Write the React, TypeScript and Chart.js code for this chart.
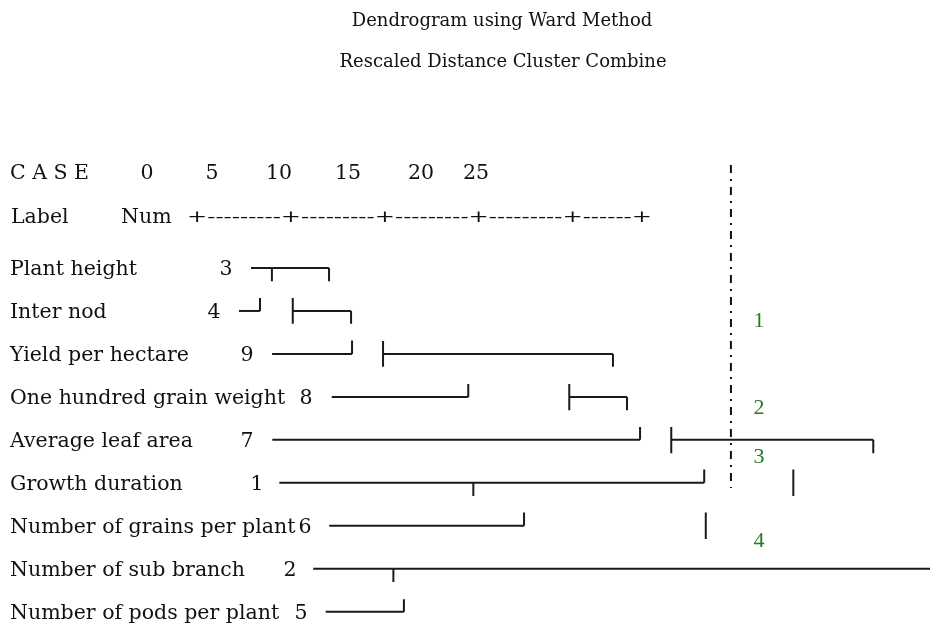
import React, { useEffect, useRef } from "react";
import { Chart, registerables } from "chart.js";

Chart.register(...registerables);

// ---- data ----
const caseLabels = [
  "Plant height",
  "Inter nod",
  "Yield per hectare",
  "One hundred grain weight",
  "Average leaf area",
  "Growth duration",
  "Number of grains per plant",
  "Number of sub branch",
  "Number of pods per plant",
];
const caseNumbers = ["3", "4", "9", "8", "7", "1", "6", "2", "5"];
const scaleTickLabels = ["0", "5", "10", "15", "20", "25"];
const clusterLabels = ["1", "2", "3", "4"];
const clusterRows = [1.23, 3.26, 4.4, 6.35];
const clusterDistance = 29.18;
const cutDistance = 27.74;
const cutRows = [-2.4, 5.12];

// horizontal links: [row, fromDistance, toDistance]
const horizontalLinks = [
  [0, 3.13, 7.13],
  [1, 2.51, 3.59],
  [1, 5.27, 8.26],
  [2, 4.21, 8.31],
  [2, 9.9, 21.69],
  [3, 7.27, 14.27],
  [3, 19.45, 22.41],
  [4, 4.22, 23.08],
  [4, 24.68, 35.04],
  [5, 4.58, 26.37],
  [6, 7.14, 17.13],
  [7, 6.32, 37.95],
  [8, 6.96, 10.97],
];

// vertical links: [distance, fromRow, toRow]
const verticalLinks = [
  [4.2, 0, 0.31],
  [7.13, 0, 0.31],
  [3.59, 0.7, 1],
  [5.27, 0.7, 1.3],
  [8.26, 1, 1.3],
  [8.31, 1.69, 2],
  [9.9, 1.7, 2.3],
  [21.69, 2, 2.3],
  [14.27, 2.7, 3],
  [19.45, 2.7, 3.31],
  [22.41, 3, 3.31],
  [23.08, 3.7, 4],
  [24.68, 3.7, 4.31],
  [35.04, 4, 4.31],
  [14.53, 5, 5.31],
  [26.37, 4.69, 5],
  [30.94, 4.69, 5.31],
  [17.13, 5.69, 6],
  [26.45, 5.69, 6.31],
  [10.43, 7, 7.31],
  [10.97, 7.71, 8],
];

// ---- layout (pixels) ----
const W = 930;
const H = 624;
const X0 = 190; // pixel of distance 0
const XU = 19.5; // pixels per distance unit
const Y0 = 268; // pixel of row 0
const YU = 42.96; // pixels per row
const numberX = [226, 214, 247, 306, 247, 257, 305, 290, 301];
const tickLabelX = [147, 212, 279, 348, 421, 476];

const LINE = "#1a1a1a";
const FONT = "'DejaVu Serif', serif";

const textPlugin = {
  id: "dendroText",
  afterDraw(chart: any) {
    const ctx = chart.ctx as CanvasRenderingContext2D;
    const ys = chart.scales.y;
    const xs = chart.scales.x;
    ctx.save();
    ctx.fillStyle = "#111";
    ctx.textBaseline = "middle";

    ctx.font = `18px ${FONT}`;
    ctx.textAlign = "center";
    ctx.fillText("Dendrogram using Ward Method", 502, 21);
    ctx.fillText("Rescaled Distance Cluster Combine", 503, 62);

    ctx.font = `20.5px ${FONT}`;
    ctx.textAlign = "left";
    ctx.fillText("C A S E", 10, 174);
    ctx.fillText("Label", 11, 218);
    ctx.fillText("Num", 121, 218);

    ctx.textAlign = "center";
    scaleTickLabels.forEach((t, i) => ctx.fillText(t, tickLabelX[i], 174));

    // axis string stretched between the first and last "+"
    const axisStr = "+---------+---------+---------+---------+------+";
    ctx.font = `17px ${FONT}`;
    const w = ctx.measureText(axisStr).width;
    const target = 652 - 187;
    ctx.save();
    ctx.translate(187, 218);
    ctx.scale(target / w, 1);
    ctx.textAlign = "left";
    ctx.fillText(axisStr, 0, 0);
    ctx.restore();

    ctx.font = `20.5px ${FONT}`;
    caseLabels.forEach((lab, i) => {
      const y = ys.getPixelForValue(i) + 2;
      ctx.textAlign = "left";
      ctx.fillText(lab, 10, y);
      ctx.textAlign = "center";
      ctx.fillText(caseNumbers[i], numberX[i], y);
    });

    ctx.fillStyle = "#247a24";
    ctx.font = "22px 'Liberation Serif', serif";
    ctx.textAlign = "center";
    clusterLabels.forEach((c, i) => {
      ctx.fillText(c, xs.getPixelForValue(clusterDistance), ys.getPixelForValue(clusterRows[i]));
    });
    ctx.restore();
  },
};

export default function App() {
  const ref = useRef<HTMLCanvasElement | null>(null);

  useEffect(() => {
    if (!ref.current) return;
    const lineStyle = {
      showLine: true,
      borderColor: LINE,
      borderWidth: 2,
      pointRadius: 0,
      pointHoverRadius: 0,
      borderCapStyle: "butt" as const,
    };
    const datasets: any[] = [];
    horizontalLinks.forEach(([row, a, b]) =>
      datasets.push({ ...lineStyle, data: [{ x: a, y: row }, { x: b, y: row }] })
    );
    verticalLinks.forEach(([d, r1, r2]) =>
      datasets.push({ ...lineStyle, data: [{ x: d, y: r1 }, { x: d, y: r2 }] })
    );
    datasets.push({
      ...lineStyle,
      borderColor: "#111",
      borderWidth: 2,
      borderDash: [8, 6, 2, 6],
      data: [
        { x: cutDistance, y: cutRows[0] },
        { x: cutDistance, y: cutRows[1] },
      ],
    });

    const chart = new Chart(ref.current, {
      type: "scatter",
      data: { datasets },
      options: {
        animation: false,
        responsive: false,
        devicePixelRatio: 1,
        layout: { padding: 0 },
        plugins: {
          legend: { display: false },
          tooltip: { enabled: false },
          title: { display: false },
        },
        events: [],
        scales: {
          x: {
            type: "linear",
            display: false,
            min: -X0 / XU,
            max: (W - X0) / XU,
          },
          y: {
            type: "linear",
            display: false,
            reverse: true,
            min: -Y0 / YU,
            max: (H - Y0) / YU,
          },
        },
      },
      plugins: [textPlugin],
    });
    return () => chart.destroy();
  }, []);

  return (
    <div style={{ position: "fixed", left: 0, top: 0, width: W, height: H, background: "#fff" }}>
      <canvas ref={ref} width={W} height={H} style={{ display: "block" }} />
    </div>
  );
}
